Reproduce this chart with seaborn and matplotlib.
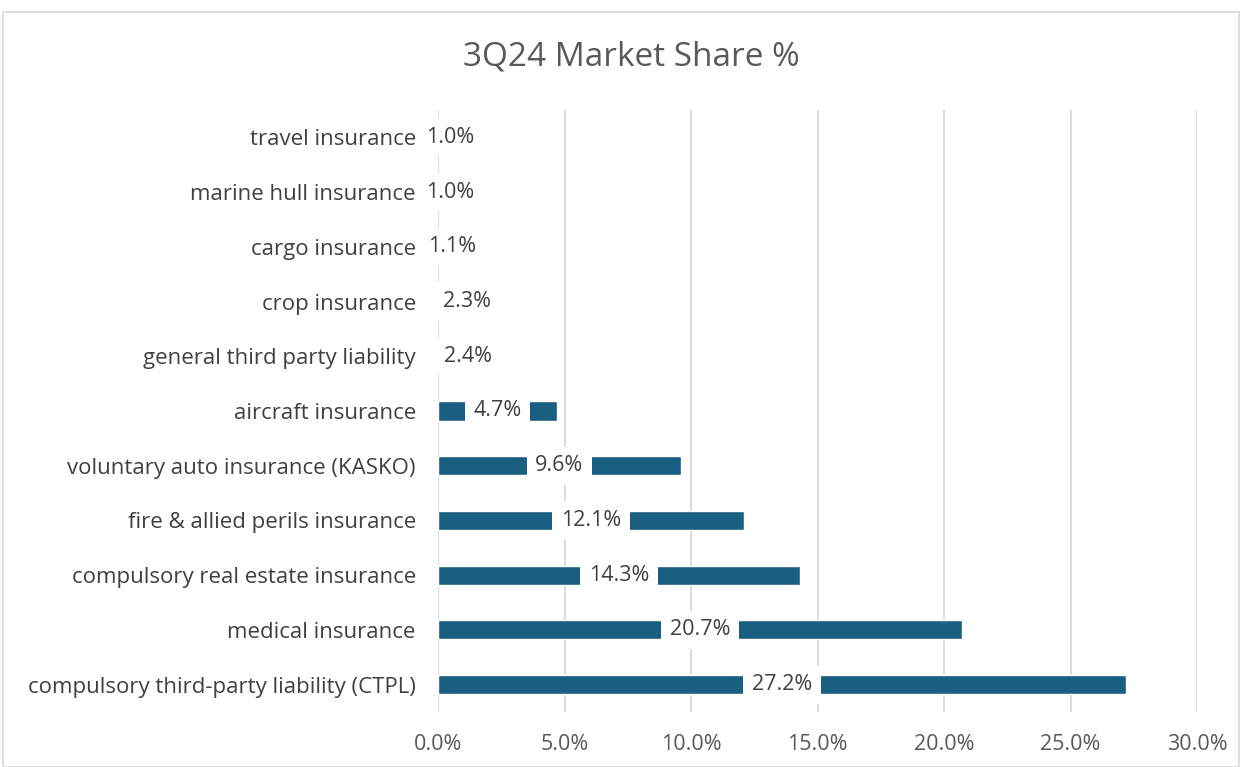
import matplotlib
matplotlib.use("Agg")
import matplotlib.pyplot as plt
import seaborn as sns
import pandas as pd
from matplotlib.ticker import PercentFormatter
from matplotlib.patches import Rectangle

categories = [
    "travel insurance",
    "marine hull insurance",
    "cargo insurance",
    "crop insurance",
    "general third party liability",
    "aircraft insurance",
    "voluntary auto insurance (KASKO)",
    "fire & allied perils insurance",
    "compulsory real estate insurance",
    "medical insurance",
    "compulsory third-party liability (CTPL)",
]
share = [1.0, 1.0, 1.1, 2.3, 2.4, 4.7, 9.6, 12.1, 14.3, 20.7, 27.2]
x_ticks = [0, 5, 10, 15, 20, 25, 30]

df = pd.DataFrame({"category": categories, "share": share})

sns.set_theme(style="white")
plt.rcParams["font.family"] = ["Open Sans", "DejaVu Sans"]

fig = plt.figure(figsize=(12.45, 7.67), dpi=100)
ax = fig.add_axes([438 / 1245, 1 - 712 / 767, (1197 - 438) / 1245, (712 - 110) / 767])

# chart border
fig.patches.append(Rectangle((3 / 1245, 0), 1236 / 1245, 1 - 12 / 767,
                             transform=fig.transFigure, fill=False,
                             edgecolor="#d9d9d9", linewidth=1.2))

sns.barplot(data=df, y="category", x="share", orient="h", color="#1a5f81",
            width=0.35, saturation=1, ax=ax, zorder=2)

# data labels sit in the middle of each bar on a white box
for i, v in enumerate(share):
    ax.text(v / 2, i, f"{v:.1f}%", ha="center", va="center", fontsize=15.5,
            color="#404040", zorder=3,
            bbox=dict(boxstyle="square,pad=0.4", facecolor="white", edgecolor="none"))

ax.set_xlim(0, 30)
ax.set_ylim(10.5, -0.5)
ax.set_xticks(x_ticks)
ax.xaxis.set_major_formatter(PercentFormatter(decimals=1))
ax.grid(axis="x", color="#d9d9d9", linewidth=1.3, zorder=0)
ax.set_axisbelow(True)
for s in ax.spines.values():
    s.set_visible(False)
ax.set_xlabel("")
ax.set_ylabel("")
ax.tick_params(axis="x", length=0, labelsize=15.5, labelcolor="#595959", pad=16)
ax.tick_params(axis="y", length=0, labelsize=16, labelcolor="#404040", pad=16)

fig.text(631 / 1245, 1 - 57 / 767, "3Q24 Market Share %", ha="center", va="center",
         fontsize=24, color="#595959")

fig.savefig("out.png", dpi=100)
